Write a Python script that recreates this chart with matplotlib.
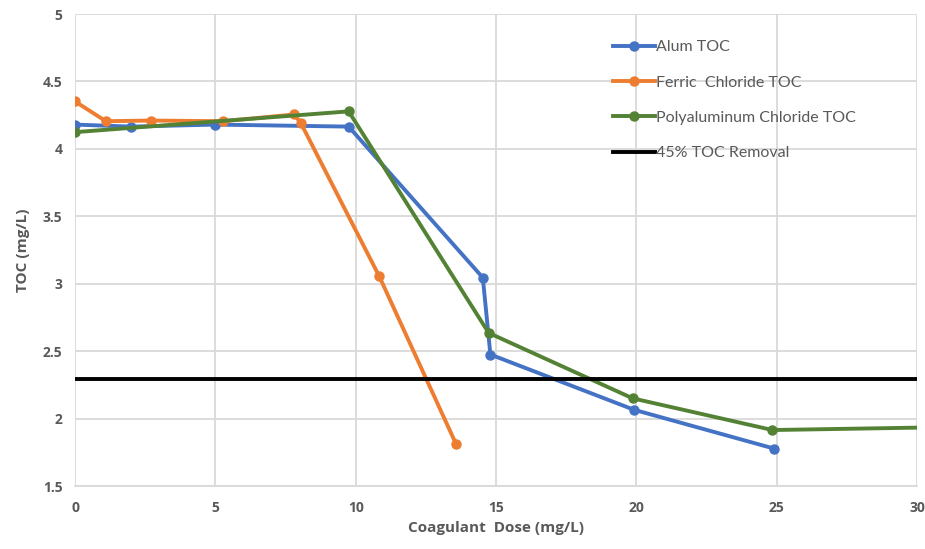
import matplotlib
matplotlib.use("Agg")
import matplotlib.pyplot as plt

# Data
alum_x = [0, 2.0, 5.0, 9.75, 14.53, 14.8, 19.92, 24.9]
alum_y = [4.18, 4.165, 4.18, 4.165, 3.045, 2.475, 2.065, 1.778]

ferric_x = [0, 1.1, 2.7, 5.28, 7.81, 8.05, 10.84, 13.58]
ferric_y = [4.352, 4.205, 4.21, 4.205, 4.255, 4.19, 3.055, 1.81]

pac_x = [0, 9.75, 14.74, 19.87, 24.85, 35.0]
pac_y = [4.124, 4.278, 2.635, 2.15, 1.915, 1.95]

removal_x = [0, 30]
removal_y = [2.29, 2.29]

xticks = [0, 5, 10, 15, 20, 25, 30]
yticks = [1.5, 2, 2.5, 3, 3.5, 4, 4.5, 5]

plt.rcParams['font.family'] = ['Lato', 'DejaVu Sans']
BOLD = ['Open Sans', 'DejaVu Sans']

fig = plt.figure(figsize=(9.25, 5.49), dpi=100)
ax = fig.add_axes([75/925, 1-486/549, (917-75)/925, (486-14)/549])

lw = 2.8
ms = 6.5
ax.plot(alum_x, alum_y, color='#4472C4', lw=lw, marker='o', ms=ms, label='Alum TOC', zorder=3)
ax.plot(ferric_x, ferric_y, color='#ED7D31', lw=lw, marker='o', ms=ms, label='Ferric  Chloride TOC', zorder=3)
ax.plot(pac_x, pac_y, color='#548235', lw=lw, marker='o', ms=ms, label='Polyaluminum Chloride TOC', zorder=3)
ax.plot(removal_x, removal_y, color='black', lw=lw, label='45% TOC Removal', zorder=3)

ax.set_xlim(0, 30)
ax.set_ylim(1.5, 5)
ax.set_xticks(xticks)
ax.set_xticklabels([f"{v:g}" for v in xticks], family=BOLD, fontweight='bold')
ax.set_yticks(yticks)
ax.set_yticklabels([f"{v:g}" for v in yticks], family=BOLD, fontweight='bold')
ax.grid(True, color='#d9d9d9', lw=1.3, zorder=0)
ax.set_axisbelow(True)
for s in ['top', 'right', 'left']:
    ax.spines[s].set_visible(False)
ax.spines['bottom'].set_color('#d9d9d9')
ax.spines['bottom'].set_linewidth(1.3)
ax.tick_params(axis='x', length=0, labelsize=10, labelcolor='#595959', pad=11)
ax.tick_params(axis='y', length=0, labelsize=10, labelcolor='#595959', pad=9)

ax.set_xlabel('Coagulant  Dose (mg/L)', fontsize=11, fontweight='bold', color='#595959',
              labelpad=4, family=BOLD)
ax.set_ylabel('TOC (mg/L)', fontsize=11, fontweight='bold', color='#595959',
              labelpad=9, family=BOLD)

leg = ax.legend(loc='upper left', bbox_to_anchor=(0.622, 0.975), frameon=False,
                fontsize=11.5, labelspacing=1.32, handlelength=2.6, handletextpad=0.1,
                labelcolor='#595959')

fig.savefig('out.png', dpi=100)
